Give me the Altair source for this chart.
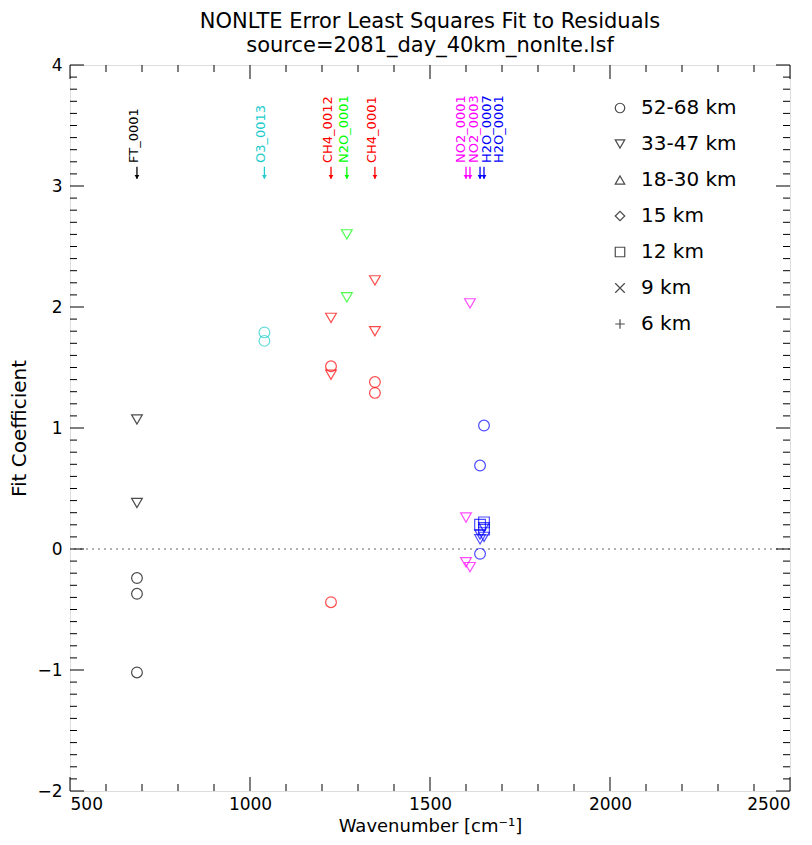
import altair as alt
import pandas as pd

# ---- data ----
lines = ["FT_0001", "O3_0013", "CH4_0012", "N2O_0001", "CH4_0001",
         "NO2_0001", "NO2_0003", "H2O_0007", "H2O_0001"]
line_wn = [686, 1040, 1225, 1269, 1347, 1600, 1611, 1639, 1650]
label_wn = [689, 1043, 1228, 1272, 1350, 1597, 1633, 1669, 1703]
line_colors = ["#000000", "#22cccc", "#ff0000", "#00ff00", "#ff0000",
               "#ff00ff", "#ff00ff", "#0000ff", "#0000ff"]

groups = ["52-68 km", "33-47 km", "18-30 km", "15 km", "12 km",
          "\u00a09 km", "\u00a06 km"]
group_shapes = ["circle", "triangle-down", "triangle-up", "diamond", "square",
                "M-1,-1L1,1M-1,1L1,-1", "M-1,0L1,0M0,-1L0,1"]

pt_line = ["FT_0001"] * 5 + ["O3_0013"] * 2 + ["CH4_0012"] * 4 + ["N2O_0001"] * 2 \
    + ["CH4_0001"] * 4 + ["NO2_0001"] * 2 + ["NO2_0003"] * 2 + ["H2O_0007"] * 5 \
    + ["H2O_0001"] * 5
pt_group = ["33-47 km", "33-47 km", "52-68 km", "52-68 km", "52-68 km",
            "52-68 km", "52-68 km",
            "33-47 km", "52-68 km", "33-47 km", "52-68 km",
            "33-47 km", "33-47 km",
            "33-47 km", "33-47 km", "52-68 km", "52-68 km",
            "33-47 km", "33-47 km",
            "33-47 km", "33-47 km",
            "52-68 km", "52-68 km", "12 km", "33-47 km", "33-47 km",
            "52-68 km", "12 km", "12 km", "33-47 km", "33-47 km"]
pt_coef = [1.07, 0.38, -0.24, -0.37, -1.02,
           1.79, 1.72,
           1.91, 1.51, 1.44, -0.44,
           2.60, 2.08,
           2.22, 1.80, 1.38, 1.29,
           0.26, -0.11,
           2.03, -0.15,
           0.69, -0.04, 0.20, 0.12, 0.08,
           1.02, 0.22, 0.16, 0.18, 0.10]

x_major = [500, 1000, 1500, 2000, 2500]
x_minor = [v for v in range(600, 2500, 100) if v % 500 != 0]
y_major = [-2, -1, 0, 1, 2, 3, 4]
y_minor = [round(-2 + 0.1 * i, 1) for i in range(61) if i % 10 != 0]

# ---- tables ----
wn_of = dict(zip(lines, line_wn))
col_of = dict(zip(lines, line_colors))
lines_df = pd.DataFrame({"line": lines, "wn": line_wn, "lwn": label_wn,
                         "color": line_colors})
pts = pd.DataFrame({"line": pt_line, "group": pt_group, "coef": pt_coef})
pts["wn"] = pts["line"].map(wn_of)
pts["color"] = pts["line"].map(col_of)

W, H = 720, 726
FONT = "DejaVu Sans"
xs = alt.Scale(domain=[500, 2500], nice=False, zero=False)
ys = alt.Scale(domain=[-2, 4], nice=False, zero=False)
MAJ, MIN = 14, 7

XAX = alt.Axis(orient="bottom", values=x_major, format="d", ticks=False,
               domain=False, grid=False, labelFontSize=17, labelFont=FONT,
               labelPadding=5, title="Wavenumber [cm\u207b\u00b9]",
               titleFontSize=18, titleFont=FONT, titleFontWeight="normal",
               titlePadding=5, labelColor="black", titleColor="black")
YAX = alt.Axis(orient="left", values=y_major, format="d", ticks=False,
               domain=False, grid=False, labelFontSize=17, labelFont=FONT,
               labelPadding=8, title="Fit Coefficient", titleFontSize=20,
               titleFont=FONT, titleFontWeight="normal", titlePadding=7,
               labelColor="black", titleColor="black")


def X(f):
    return alt.X(f, scale=xs, axis=XAX)


def Y(f):
    return alt.Y(f, scale=ys, axis=YAX)


def xticks(vals, length):
    d = pd.DataFrame({"v": vals})
    b = alt.Chart(d).mark_rule(color="black", strokeWidth=1)
    bot = b.encode(x=X("v:Q"), y=alt.value(H), y2=alt.value(H - length))
    top = b.encode(x=X("v:Q"), y=alt.value(0), y2=alt.value(length))
    return [bot, top]


def yticks(vals, length):
    d = pd.DataFrame({"v": vals})
    b = alt.Chart(d).mark_rule(color="black", strokeWidth=1)
    left = b.encode(y=Y("v:Q"), x=alt.value(0), x2=alt.value(length))
    right = b.encode(y=Y("v:Q"), x=alt.value(W), x2=alt.value(W - length))
    return [left, right]


zero = alt.Chart(pd.DataFrame({"z": [0]})).mark_rule(
    color="#666666", strokeDash=[2, 4], strokeWidth=1
).encode(y=Y("z:Q"))

points = alt.Chart(pts).mark_point(filled=False, size=115, strokeWidth=1.2).encode(
    x=X("wn:Q"),
    y=Y("coef:Q"),
    color=alt.Color("color:N", scale=None),
    shape=alt.Shape("group:N",
                    scale=alt.Scale(domain=groups, range=group_shapes),
                    legend=alt.Legend(orient="none", legendX=540, legendY=33,
                                      title=None, labelFontSize=20, labelFont=FONT,
                                      labelColor="black", symbolSize=90,
                                      symbolStrokeWidth=1.2,
                                      symbolStrokeColor="black",
                                      symbolFillColor="transparent",
                                      rowPadding=16, labelOffset=11, padding=0)),
)

shaft = alt.Chart(lines_df).mark_rule(strokeWidth=1.3).encode(
    x=X("wn:Q"),
    y=alt.YDatum(3.16, scale=ys, axis=YAX), y2=alt.Y2Datum(3.06),
    color=alt.Color("color:N", scale=None),
)
head = alt.Chart(lines_df).mark_point(shape="triangle-down", filled=True,
                                      size=22, opacity=1).encode(
    x=X("wn:Q"),
    y=alt.YDatum(3.075, scale=ys, axis=YAX),
    color=alt.Color("color:N", scale=None),
)
labels = alt.Chart(lines_df).mark_text(angle=270, align="left",
                                       baseline="alphabetic", fontSize=13,
                                       font=FONT).encode(
    x=X("lwn:Q"),
    y=alt.YDatum(3.19, scale=ys, axis=YAX),
    text="line:N",
    color=alt.Color("color:N", scale=None),
)

layers = [zero] + xticks(x_major, MAJ) + xticks(x_minor, MIN) \
    + yticks(y_major, MAJ) + yticks(y_minor, MIN) + [shaft, head, labels, points]

chart = alt.layer(*layers).properties(
    width=W, height=H,
    title=alt.TitleParams(
        text=["NONLTE Error Least Squares Fit to Residuals",
              "source=2081_day_40km_nonlte.lsf"],
        fontSize=21, font=FONT, fontWeight="normal", anchor="middle",
        frame="group", lineHeight=24, offset=0, color="black"),
    autosize=alt.AutoSizeParams(type="none"),
    padding={"left": 62, "top": 57, "right": 14, "bottom": 46},
).configure_view(stroke="black", strokeWidth=1).configure(background="white")

chart.save("out.html", embed_options={"renderer": "svg", "actions": False})
